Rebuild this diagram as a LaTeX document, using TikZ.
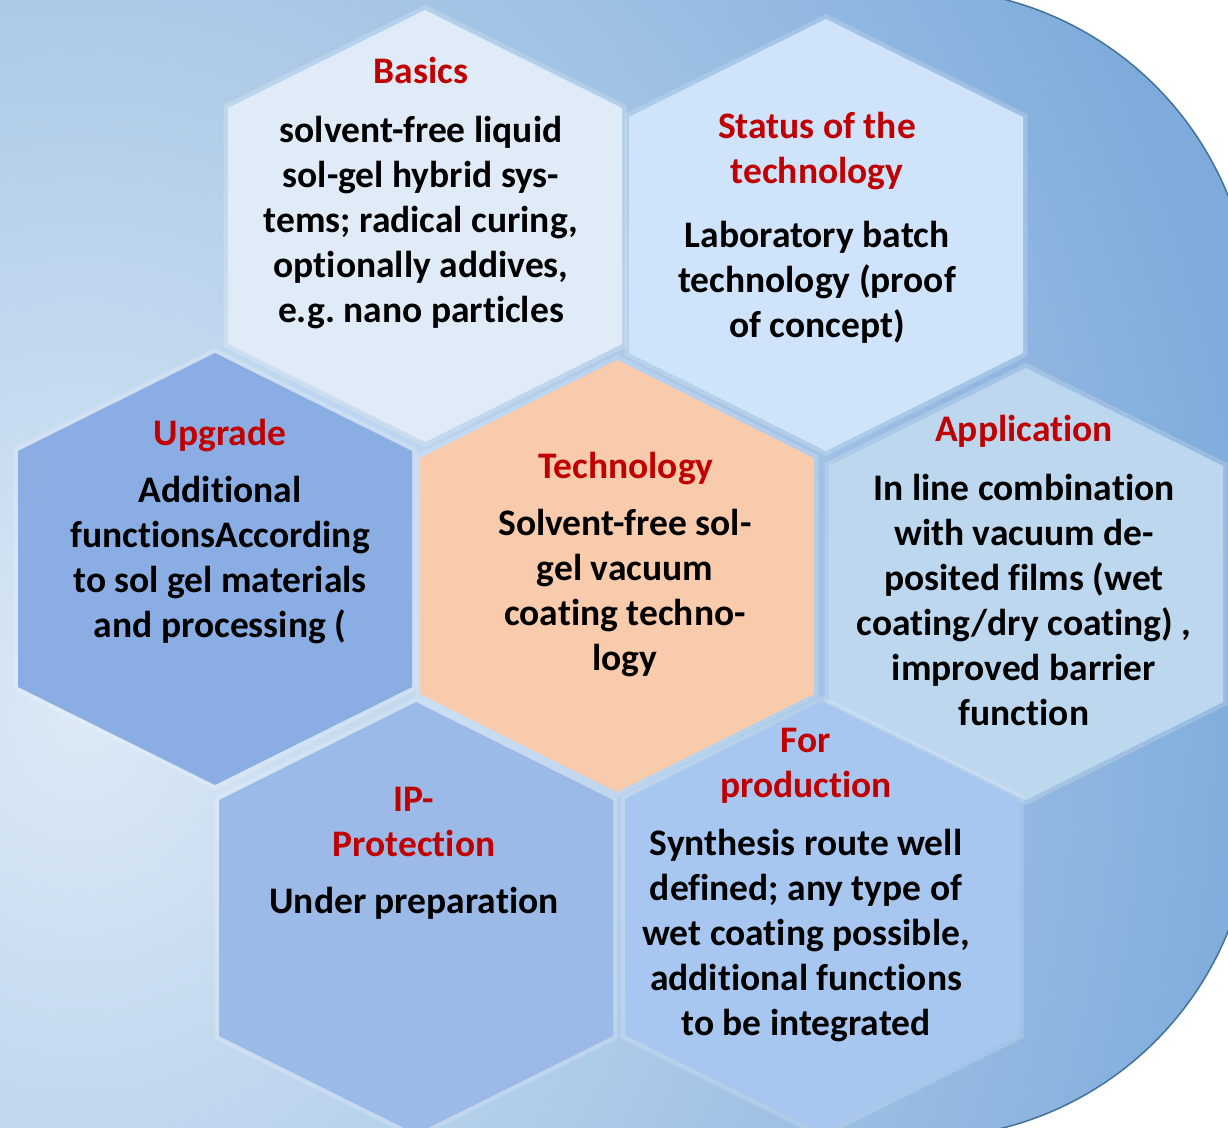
\documentclass[tikz,border=0pt]{standalone}
\usepackage{fontspec}
\setmainfont{Carlito}[Ligatures=NoCommon]
\frenchspacing
\definecolor{bgin}{HTML}{DCE9F6}
\definecolor{bgout}{HTML}{7EABDB}
\definecolor{bgline}{HTML}{41719C}
\definecolor{titlered}{HTML}{C00000}
\definecolor{basicsfill}{HTML}{DFEBF7}
\definecolor{statusfill}{HTML}{CFE3FB}
\definecolor{upgradefill}{HTML}{8AAEE4}
\definecolor{techfill}{HTML}{F8CBAD}
\definecolor{appfill}{HTML}{BDD7EE}
\definecolor{ipfill}{HTML}{9BBAE7}
\definecolor{prodfill}{HTML}{A8C7F0}
\pgfdeclareradialshading{bgshade}{\pgfpoint{0bp}{0bp}}{color(0bp)=(bgin); color(25bp)=(bgout); color(50bp)=(bgout)}
\newcommand\bgoutline{(-20,-11) -- (922,-11) .. controls (1104,-11) and (1252,137) .. (1252,319) -- (1252,808) .. controls (1252,990) and (1104,1138) .. (922,1138) -- (-20,1138) -- cycle}
\newcommand\hexoutline{(0,-216) -- (197,-118) -- (197,118) -- (0,216) -- (-197,118) -- (-197,-118) -- cycle}
\begin{document}
\begin{tikzpicture}[x=1pt,y=-1pt,
  hexedge/.style={preaction={draw=white,draw opacity=.18,line width=9pt,line join=miter}},
  hextitle/.style={font=\fontsize{37.5pt}{45pt}\selectfont\bfseries, text=titlered, align=center, anchor=base, inner sep=0pt},
  hexbody/.style={font=\fontsize{37.5pt}{45pt}\selectfont\bfseries, text=black, align=center, anchor=base, inner sep=0pt}]
\useasboundingbox (0,0) rectangle (1228,1127);
% background shape
\path[fill=bgout] \bgoutline;
\begin{scope}
\clip \bgoutline;
\shade[shading=bgshade] (80,720) ellipse [x radius=1200pt, y radius=1400pt];
\end{scope}
\draw[bgline, line width=1.5pt] \bgoutline;
% hexagons
\foreach \cx/\cy/\col in {425/226/basicsfill, 826/235/statusfill, 215/569/upgradefill, 617/576/techfill, 1026/584/appfill, 416/918/ipfill, 822/917/prodfill}{
  \path[fill=\col, hexedge, shift={(\cx,\cy)}] \hexoutline;
}
% texts (anchor base = baseline of the last line)
\node[hextitle] (basicsT) at (421,83) {Basics};
\node[hexbody] (basicsB) at (421,322) {solvent-free liquid\\sol-gel hybrid sys-\\tems; radical curing,\\optionally addives,\\e.g. nano particles};
\node[hextitle] (statusT) at (817,183) {Status of the\\technology};
\node[hexbody] (statusB) at (817,337) {Laboratory batch\\technology (proof\\of concept)};
\node[hextitle] (upgradeT) at (220,445) {Upgrade};
\node[hexbody] (upgradeB) at (220,637) {Additional\\functionsAccording\\to sol gel materials\\and processing (};
\node[hextitle] (techT) at (626,478) {Technology};
\node[hexbody] (techB) at (625,670) {Solvent-free sol-\\gel vacuum\\coating techno-\\logy};
\node[hextitle] (appT) at (1024,441) {Application};
\node[hexbody] (appB) at (1024,725) {In line combination\\with vacuum de-\\posited films (wet\\coating/dry coating) ,\\improved barrier\\function};
\node[hextitle] (ipT) at (414,856) {IP-\\Protection};
\node[hexbody] (ipB) at (414,913) {Under preparation};
\node[hextitle] (prodT) at (806,797) {For\\production};
\node[hexbody] (prodB) at (806,1035) {Synthesis route well\\defined; any type of\\wet coating possible,\\additional functions\\to be integrated};
\end{tikzpicture}
\end{document}
